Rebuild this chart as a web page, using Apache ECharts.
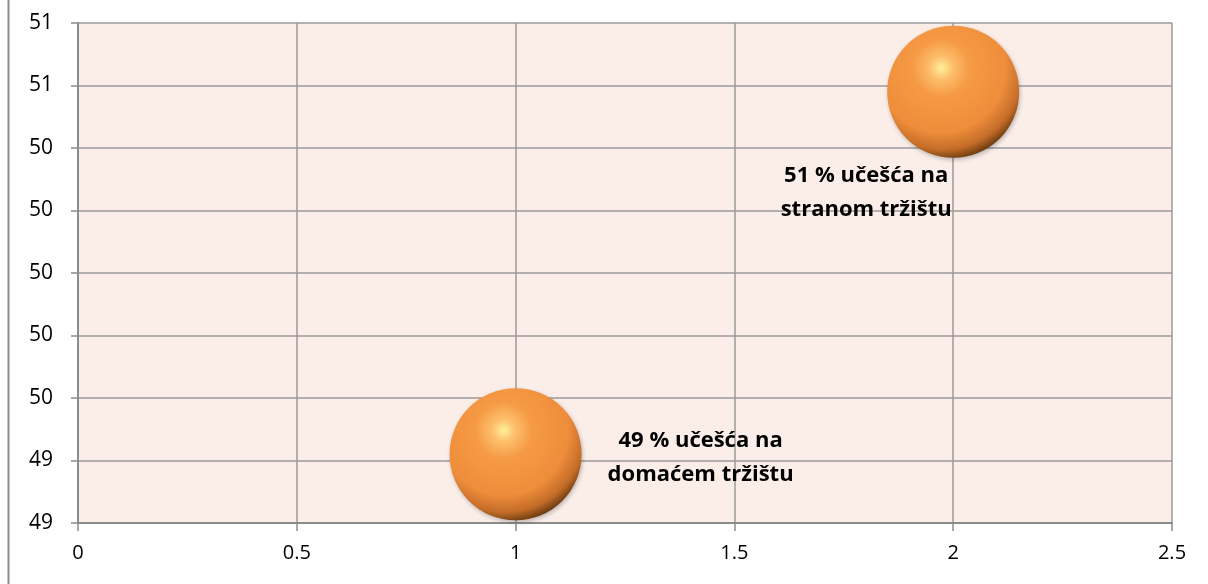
<!DOCTYPE html>
<html>
<head>
<meta charset="utf-8">
<script src="https://cdn.jsdelivr.net/npm/echarts@6/dist/echarts.min.js"></script>
<style>
  html, body { margin: 0; padding: 0; background: #fff; }
  #main { width: 1208px; height: 584px; }
</style>
</head>
<body>
<div id="main"></div>
<script>
// podaci
var xValues = [1, 2];
var yValues = [49.42, 50.58];
var bubbleLabels = ['49 % učešća na\ndomaćem tržištu', '51 % učešća na\nstranom tržištu'];

var yMin = 49.2, yMax = 50.8, yStep = 0.2;
var xMin = 0, xMax = 2.5, xStep = 0.5;

var FONT = "'Open Sans', sans-serif";

var ballColor = {
  type: 'radial', x: 0.41, y: 0.32, r: 0.72,
  colorStops: [
    { offset: 0, color: '#fff09c' },
    { offset: 0.12, color: '#fdbf6c' },
    { offset: 0.3, color: '#f69a45' },
    { offset: 0.68, color: '#ee8d3b' },
    { offset: 0.86, color: '#c46c28' },
    { offset: 1, color: '#55300a' }
  ]
};

// položaj oznaka uz svaki mjehur
var labelOffsets = [[185, 3], [-87, 101]];

var seriesData = [];
for (var i = 0; i < xValues.length; i++) {
  seriesData.push({
    value: [xValues[i], yValues[i]],
    label: {
      show: true,
      formatter: bubbleLabels[i],
      position: 'inside',
      offset: labelOffsets[i],
      fontFamily: FONT,
      fontWeight: 'bold',
      fontSize: 22,
      lineHeight: 34,
      color: '#000',
      align: 'center'
    }
  });
}

var chart = echarts.init(document.getElementById('main'));
chart.setOption({
  animation: false,
  backgroundColor: '#fff',
  textStyle: { fontFamily: FONT },
  grid: { left: 78, right: 36, top: 23, bottom: 61, show: true, backgroundColor: '#fbeee9', borderWidth: 0 },
  graphic: [{
    type: 'line', shape: { x1: 8.5, y1: 0, x2: 8.5, y2: 584 },
    style: { stroke: '#8c8c8c', lineWidth: 2 }
  }],
  xAxis: {
    type: 'value', min: xMin, max: xMax, interval: xStep,
    axisLine: { show: true, onZero: false, lineStyle: { color: '#8c8c8c', width: 2 } },
    axisTick: { show: true, length: 8, lineStyle: { color: '#8c8c8c', width: 1.5 } },
    splitLine: { show: true, lineStyle: { color: '#9a9a9a', width: 1.5 } },
    axisLabel: { color: '#000', fontFamily: FONT, fontSize: 20, margin: 20 }
  },
  yAxis: {
    type: 'value', min: yMin, max: yMax, interval: yStep,
    axisLine: { show: true, onZero: false, lineStyle: { color: '#8c8c8c', width: 2 } },
    axisTick: { show: true, length: 7, lineStyle: { color: '#8c8c8c', width: 1.5 } },
    splitLine: { show: true, lineStyle: { color: '#9a9a9a', width: 1.5 } },
    axisLabel: {
      color: '#000', fontFamily: FONT, fontSize: 21, margin: 25,
      formatter: function (v) { return Math.round(v); }
    }
  },
  series: [{
    type: 'scatter',
    symbol: 'circle',
    symbolSize: 132,
    itemStyle: {
      color: ballColor,
      opacity: 1,
      shadowColor: 'rgba(0,0,0,0.25)', shadowBlur: 4, shadowOffsetX: 1, shadowOffsetY: 2
    },
    data: seriesData
  }]
});
</script>
</body>
</html>
